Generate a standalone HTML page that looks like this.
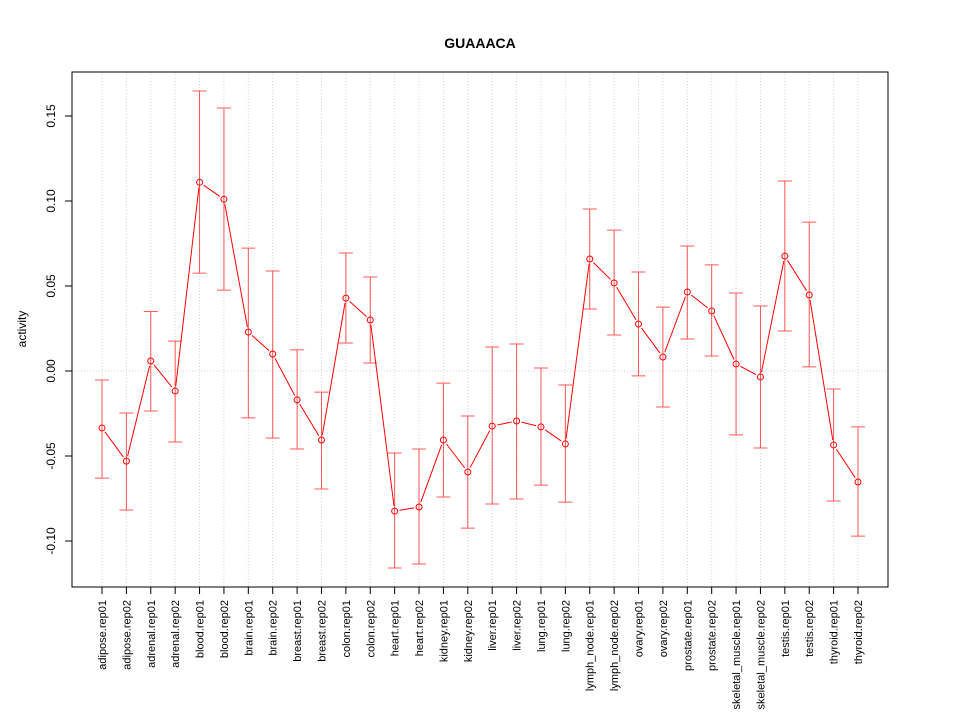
<!DOCTYPE html>
<html><head><meta charset="utf-8"><style>body{margin:0;background:#fff}svg{font-family:"Liberation Sans",sans-serif}</style></head>
<body>
<svg id="chart" width="960" height="720" xmlns="http://www.w3.org/2000/svg">
<text x="480" y="48" text-anchor="middle" font-weight="bold" font-size="14">GUAAACA</text>
<text transform="translate(26,329) rotate(-90)" text-anchor="middle" font-size="12">activity</text>
<g id="grid"></g><g id="axes"></g><g id="marks"></g>
<rect x="72" y="72" width="816" height="515" fill="none" stroke="#000"/>
</svg>
<script>
const categories=["adipose.rep01","adipose.rep02","adrenal.rep01","adrenal.rep02","blood.rep01","blood.rep02","brain.rep01","brain.rep02","breast.rep01","breast.rep02","colon.rep01","colon.rep02","heart.rep01","heart.rep02","kidney.rep01","kidney.rep02","liver.rep01","liver.rep02","lung.rep01","lung.rep02","lymph_node.rep01","lymph_node.rep02","ovary.rep01","ovary.rep02","prostate.rep01","prostate.rep02","skeletal_muscle.rep01","skeletal_muscle.rep02","testis.rep01","testis.rep02","thyroid.rep01","thyroid.rep02"];
const values=[-0.0335,-0.053,0.0059,-0.0118,0.111,0.101,0.0229,0.01,-0.017,-0.0406,0.0429,0.03,-0.0824,-0.08,-0.0406,-0.0594,-0.0324,-0.0294,-0.0329,-0.0429,0.0659,0.0518,0.0276,0.0082,0.0465,0.0353,0.0041,-0.0035,0.0676,0.0447,-0.0435,-0.0653];
const upper=[-0.0053,-0.0247,0.035,0.0176,0.1647,0.1547,0.0723,0.0588,0.0124,-0.0124,0.0694,0.0553,-0.0482,-0.0459,-0.0071,-0.0265,0.0141,0.0159,0.0018,-0.0082,0.0953,0.0829,0.0582,0.0376,0.0735,0.0624,0.0459,0.0382,0.1118,0.0876,-0.0106,-0.0329];
const lower=[-0.063,-0.0818,-0.0235,-0.0418,0.0576,0.0476,-0.0276,-0.0394,-0.0459,-0.0694,0.0165,0.0047,-0.1159,-0.1135,-0.0741,-0.0924,-0.0782,-0.0753,-0.0671,-0.0771,0.0365,0.0212,-0.0029,-0.0212,0.0188,0.0088,-0.0376,-0.0453,0.0235,0.0024,-0.0765,-0.0971];
const yTicks=[-0.10,-0.05,0.00,0.05,0.10,0.15];
const yTickLabels=["-0.10","-0.05","0.00","0.05","0.10","0.15"];
const NS="http://www.w3.org/2000/svg";
const X=i=>102+i*(858-102)/(categories.length-1);
const Y=v=>371-v*1700;
function mk(p,t,a){const e=document.createElementNS(NS,t);for(const k in a)e.setAttribute(k,a[k]);p.appendChild(e);return e;}
const grid=document.getElementById('grid'),axes=document.getElementById('axes'),marks=document.getElementById('marks');
const zl=mk(grid,'line',{x1:72,x2:888,y1:Y(0),y2:Y(0),stroke:'#d3d3d3','stroke-dasharray':'1,2'});


yTicks.forEach((v,i)=>{
 const t=mk(axes,'line',{x1:65,x2:72,y1:Y(v),y2:Y(v),stroke:'#000'});
 
 
 const l=mk(axes,'text',{transform:`translate(55,${Y(v)}) rotate(-90)`,'text-anchor':'middle','font-size':12});
 l.textContent=yTickLabels[i];
 
 
});
mk(axes,'line',{x1:72,x2:72,y1:Y(yTicks[0]),y2:Y(yTicks[yTicks.length-1]),stroke:'#000'});
categories.forEach((c,i)=>{
 const x=X(i);
 const g=mk(grid,'line',{x1:x,x2:x,y1:72,y2:587,stroke:'#d3d3d3','stroke-dasharray':'1,2'});
 
 
 const t=mk(axes,'line',{x1:x,x2:x,y1:587,y2:594,stroke:'#000'});
 
 
 const l=mk(axes,'text',{transform:`translate(${x+4},600) rotate(-90)`,'text-anchor':'end','font-size':11});
 l.textContent=c;
 
 
 const e=mk(marks,'path',{d:`M${x} ${Y(upper[i])}V${Y(lower[i])}M${x-7} ${Y(upper[i])}H${x+7}M${x-7} ${Y(lower[i])}H${x+7}`,stroke:'#ff0000','stroke-opacity':0.65,fill:'none'});
 
 
});
for(let i=0;i<values.length-1;i++){
 const x1=X(i),y1=Y(values[i]),x2=X(i+1),y2=Y(values[i+1]);
 const d=Math.hypot(x2-x1,y2-y1),g=5;
 if(d<=2*g)continue;
 const ux=(x2-x1)/d,uy=(y2-y1)/d;
 const s=mk(marks,'line',{x1:x1+ux*g,y1:y1+uy*g,x2:x2-ux*g,y2:y2-uy*g,stroke:'#ff0000'});
 
 
}
values.forEach((v,i)=>{
 const c=mk(marks,'circle',{cx:X(i),cy:Y(v),r:3,fill:'none',stroke:'#ff0000'});
 
 
});
</script>
</body></html>
